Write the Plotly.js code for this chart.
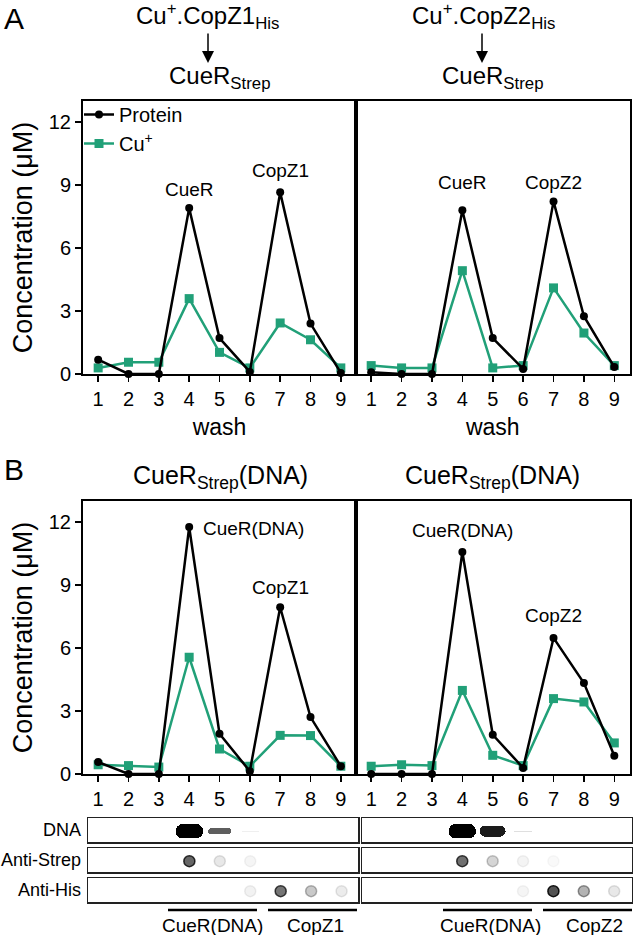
<!DOCTYPE html>
<html><head><meta charset="utf-8">
<script src="https://cdn.plot.ly/plotly-3.0.1.min.js"></script>
<style>html,body{margin:0;padding:0;background:#fff}#chart{width:633px;height:935px}</style>
</head><body><div id="chart"></div>
<script>
const wash = [1,2,3,4,5,6,7,8,9];
const tickLabels = ['1','2','3','4','5','6','7','8','9'];
const yTicks = [0,3,6,9,12];
// Panel A : Cu+.CopZ1His -> CueRStrep  and  Cu+.CopZ2His -> CueRStrep
const aZ1Protein = [0.68,0,0,7.9,1.71,0.1,8.65,2.4,0.05];
const aZ1Cu      = [0.29,0.56,0.56,3.59,1.03,0.29,2.43,1.63,0.29];
const aZ2Protein = [0.08,0,0,7.8,1.71,0.24,8.22,2.75,0.33];
const aZ2Cu      = [0.4,0.29,0.29,4.92,0.29,0.4,4.1,1.95,0.4];
// Panel B : CueRStrep(DNA)
const bZ1Protein = [0.57,0,0,11.76,1.92,0.13,7.94,2.71,0.37];
const bZ1Cu      = [0.44,0.4,0.33,5.56,1.19,0.37,1.84,1.83,0.37];
const bZ2Protein = [0,0,0,10.57,1.87,0.29,6.48,4.33,0.87];
const bZ2Cu      = [0.37,0.44,0.4,3.98,0.89,0.4,3.59,3.43,1.48];
// Blot intensities per wash (0 = blank, 1 = saturated)
const dnaZ1   = [0,0,0,1,0.6,0.06,0,0,0];
const dnaZ2   = [0,0,0,1,0.85,0.12,0,0,0];
const strepZ1 = [0,0,0,0.8,0.12,0.05,0,0,0];
const strepZ2 = [0,0,0,0.75,0.22,0.06,0.03,0,0];
const hisZ1   = [0,0,0,0,0,0.07,0.72,0.28,0.1];
const hisZ2   = [0,0,0,0,0,0.05,0.9,0.4,0.12];

const GREEN = '#21a078';
const H = 935, W = 633;
const py = p => 1 - p / H;
const px = p => p / W;

function series(xa, ya, prot, cu, showLegend) {
  return [
    {x: wash, y: cu, xaxis: xa, yaxis: ya, type: 'scatter', mode: 'lines+markers', name: 'Cu<sup>+</sup>',
     showlegend: showLegend, cliponaxis: false, legendrank: 2,
     line: {color: GREEN, width: 2.5}, marker: {symbol: 'square', size: 9, color: GREEN}},
    {x: wash, y: prot, xaxis: xa, yaxis: ya, type: 'scatter', mode: 'lines+markers', name: 'Protein',
     showlegend: showLegend, cliponaxis: false, legendrank: 1,
     line: {color: '#000', width: 2.5}, marker: {symbol: 'circle', size: 8, color: '#000'}}
  ];
}

function dnaBars(xa, ya, vals) {
  const idx = vals.map((v, i) => i).filter(i => vals[i] > 0);
  const th = idx.map(i => 0.05 + 0.55 * vals[i] * vals[i]);
  return {type: 'bar', xaxis: xa, yaxis: ya, showlegend: false, hoverinfo: 'skip',
    x: idx.map(i => wash[i]), y: th, base: th.map(t => 0.45 - t / 2),
    width: idx.map(i => 0.55 + 0.35 * vals[i]),
    marker: {color: idx.map(i => `rgba(0,0,0,${Math.min(1, vals[i] * 1.05)})`), cornerradius: '45%', line: {width: 0}}};
}
function dots(xa, ya, vals) {
  const idx = vals.map((v, i) => i).filter(i => vals[i] > 0);
  return {type: 'scatter', mode: 'markers', xaxis: xa, yaxis: ya, showlegend: false, hoverinfo: 'skip',
    x: idx.map(i => wash[i]), y: idx.map(() => 0.45),
    marker: {size: 11, color: idx.map(i => { const g = Math.round(255 * (1 - 0.75 * vals[i])); return `rgb(${g},${g},${g})`; }),
      line: {width: 1.5, color: idx.map(i => `rgba(0,0,0,${Math.min(1, vals[i])})`)}}};
}

const data = [
  ...series('x', 'y', aZ1Protein, aZ1Cu, true),
  ...series('x2', 'y2', aZ2Protein, aZ2Cu, false),
  ...series('x3', 'y3', bZ1Protein, bZ1Cu, false),
  ...series('x4', 'y4', bZ2Protein, bZ2Cu, false),
  dnaBars('x5', 'y5', dnaZ1), dots('x6', 'y6', strepZ1), dots('x7', 'y7', hisZ1),
  dnaBars('x8', 'y8', dnaZ2), dots('x9', 'y9', strepZ2), dots('x10', 'y10', hisZ2)
];

const FONT = 'Liberation Sans, Arial, sans-serif';
const domL = [px(83), px(356)], domR = [px(356), px(629.5)];
const domA = [py(374), py(101)], domB = [py(774), py(501)];
function xax(dom, anchor, title) {
  const a = {domain: dom, anchor: anchor, range: [0.5, 9.5], tickmode: 'array', tickvals: wash, ticktext: tickLabels,
    ticks: 'outside', ticklen: 6, tickwidth: 1.5, tickcolor: '#000', showline: true, mirror: true, linewidth: 2, linecolor: '#000',
    showgrid: false, zeroline: false, tickfont: {size: 20, color: '#000'}, automargin: false, fixedrange: true};
  if (title) a.title = {text: title, font: {size: 23, color: '#000'}, standoff: 10};
  return a;
}
function yax(dom, anchor, labels) {
  const a = {domain: dom, anchor: anchor, range: [0, 13], tickmode: 'array', tickvals: yTicks,
    showline: true, mirror: true, linewidth: 2, linecolor: '#000', showgrid: false, zeroline: false, automargin: false, fixedrange: true};
  if (labels) {
    Object.assign(a, {ticks: 'outside', ticklen: 6, tickwidth: 1.5, tickcolor: '#000', tickfont: {size: 20, color: '#000'},
      title: {text: 'Concentration (μM)', font: {size: 27, color: '#000'}, standoff: 8}});
  } else {
    Object.assign(a, {ticks: '', showticklabels: false});
  }
  return a;
}
function blotAx(dom, anchor, range) {
  return {domain: dom, anchor: anchor, range: range, showline: true, mirror: true, linewidth: 1.5, linecolor: '#222',
    showgrid: false, zeroline: false, showticklabels: false, ticks: '', fixedrange: true, automargin: false};
}
const bxL = [px(88), px(358)], bxR = [px(362), px(631.5)];
const rngL = [0.67, 9.54], rngR = [0.70, 9.57];
const rowDNA = [py(842), py(818)], rowStrep = [py(872), py(848)], rowHis = [py(902), py(878)];

const layout = {
  width: W, height: H, margin: {l: 0, r: 0, t: 0, b: 0}, paper_bgcolor: '#fff', plot_bgcolor: 'rgba(0,0,0,0)',
  font: {family: FONT, color: '#000'}, showlegend: true, bargap: 0,
  legend: {x: px(79), y: py(95), xanchor: 'left', yanchor: 'top', bgcolor: 'rgba(0,0,0,0)', font: {size: 20},
    itemwidth: 30, traceorder: 'normal'},
  xaxis: xax(domL, 'y', 'wash'), yaxis: yax(domA, 'x', true),
  xaxis2: xax(domR, 'y2', 'wash'), yaxis2: yax(domA, 'x2', false),
  xaxis3: xax(domL, 'y3', null), yaxis3: yax(domB, 'x3', true),
  xaxis4: xax(domR, 'y4', null), yaxis4: yax(domB, 'x4', false),
  xaxis5: blotAx(bxL, 'y5', rngL), yaxis5: blotAx(rowDNA, 'x5', [0, 1]),
  xaxis6: blotAx(bxL, 'y6', rngL), yaxis6: blotAx(rowStrep, 'x6', [0, 1]),
  xaxis7: blotAx(bxL, 'y7', rngL), yaxis7: blotAx(rowHis, 'x7', [0, 1]),
  xaxis8: blotAx(bxR, 'y8', rngR), yaxis8: blotAx(rowDNA, 'x8', [0, 1]),
  xaxis9: blotAx(bxR, 'y9', rngR), yaxis9: blotAx(rowStrep, 'x9', [0, 1]),
  xaxis10: blotAx(bxR, 'y10', rngR), yaxis10: blotAx(rowHis, 'x10', [0, 1]),
  annotations: [],
  shapes: []
};
const ann = layout.annotations;
function txt(text, x, y, size, opts) {
  ann.push(Object.assign({text: text, x: x, y: y, xref: 'paper', yref: 'paper', showarrow: false,
    xanchor: 'center', yanchor: 'middle', font: {size: size, color: '#000'}}, opts || {}));
}
// panel letters
txt('A', px(2), py(19), 30, {xanchor: 'left'});
txt('B', px(2), py(469), 30, {xanchor: 'left'});
// panel A headings
txt('Cu<sup>+</sup>.CopZ1<sub>His</sub>', px(207), py(16), 24);
txt('CueR<sub>Strep</sub>', px(219), py(78), 24);
txt('Cu<sup>+</sup>.CopZ2<sub>His</sub>', px(483), py(16), 24);
txt('CueR<sub>Strep</sub>', px(492), py(78), 24);
[208, 482].forEach(xp => ann.push({text: '', x: px(xp), y: py(63), xref: 'paper', yref: 'paper', showarrow: true,
  ax: 0, ay: -31, arrowhead: 2, arrowsize: 1.6, arrowwidth: 1.5, arrowcolor: '#000'}));
// panel B headings
txt('CueR<sub>Strep</sub>(DNA)', px(220), py(477), 25);
txt('CueR<sub>Strep</sub>(DNA)', px(492), py(477), 25);
// peak labels
function lab(text, xa, ya, x, y, opts) {
  ann.push(Object.assign({text: text, xref: xa, yref: ya, x: x, y: y, showarrow: false, xanchor: 'center', yanchor: 'middle',
    font: {size: 19, color: '#000'}}, opts || {}));
}
lab('CueR', 'x', 'y', 4, 8.8);
lab('CopZ1', 'x', 'y', 7, 9.67);
lab('CueR', 'x2', 'y2', 4, 9.14);
lab('CopZ2', 'x2', 'y2', 7, 9.14);
lab('CueR(DNA)', 'x3', 'y3', 4, 11.67, {xanchor: 'left', xshift: 12});
lab('CopZ1', 'x3', 'y3', 7, 8.87);
lab('CueR(DNA)', 'x4', 'y4', 4, 11.6);
lab('CopZ2', 'x4', 'y4', 7, 7.54);
// blot row labels
txt('DNA', px(83), py(830), 18, {xanchor: 'right'});
txt('Anti-Strep', px(83), py(860), 18, {xanchor: 'right'});
txt('Anti-His', px(83), py(890), 18, {xanchor: 'right'});
// group brackets
[[168, 257], [268, 357], [443, 532], [543, 632]].forEach(([a, b]) => layout.shapes.push({type: 'line', xref: 'paper', yref: 'paper',
  x0: px(a), x1: px(b), y0: py(910), y1: py(910), line: {color: '#000', width: 2.5}}));
txt('CueR(DNA)', px(213), py(925), 19);
txt('CopZ1', px(315), py(925), 19);
txt('CueR(DNA)', px(490), py(925), 19);
txt('CopZ2', px(594), py(925), 19);

Plotly.newPlot('chart', data, layout, {staticPlot: true, displayModeBar: false});
</script>
</body></html>
